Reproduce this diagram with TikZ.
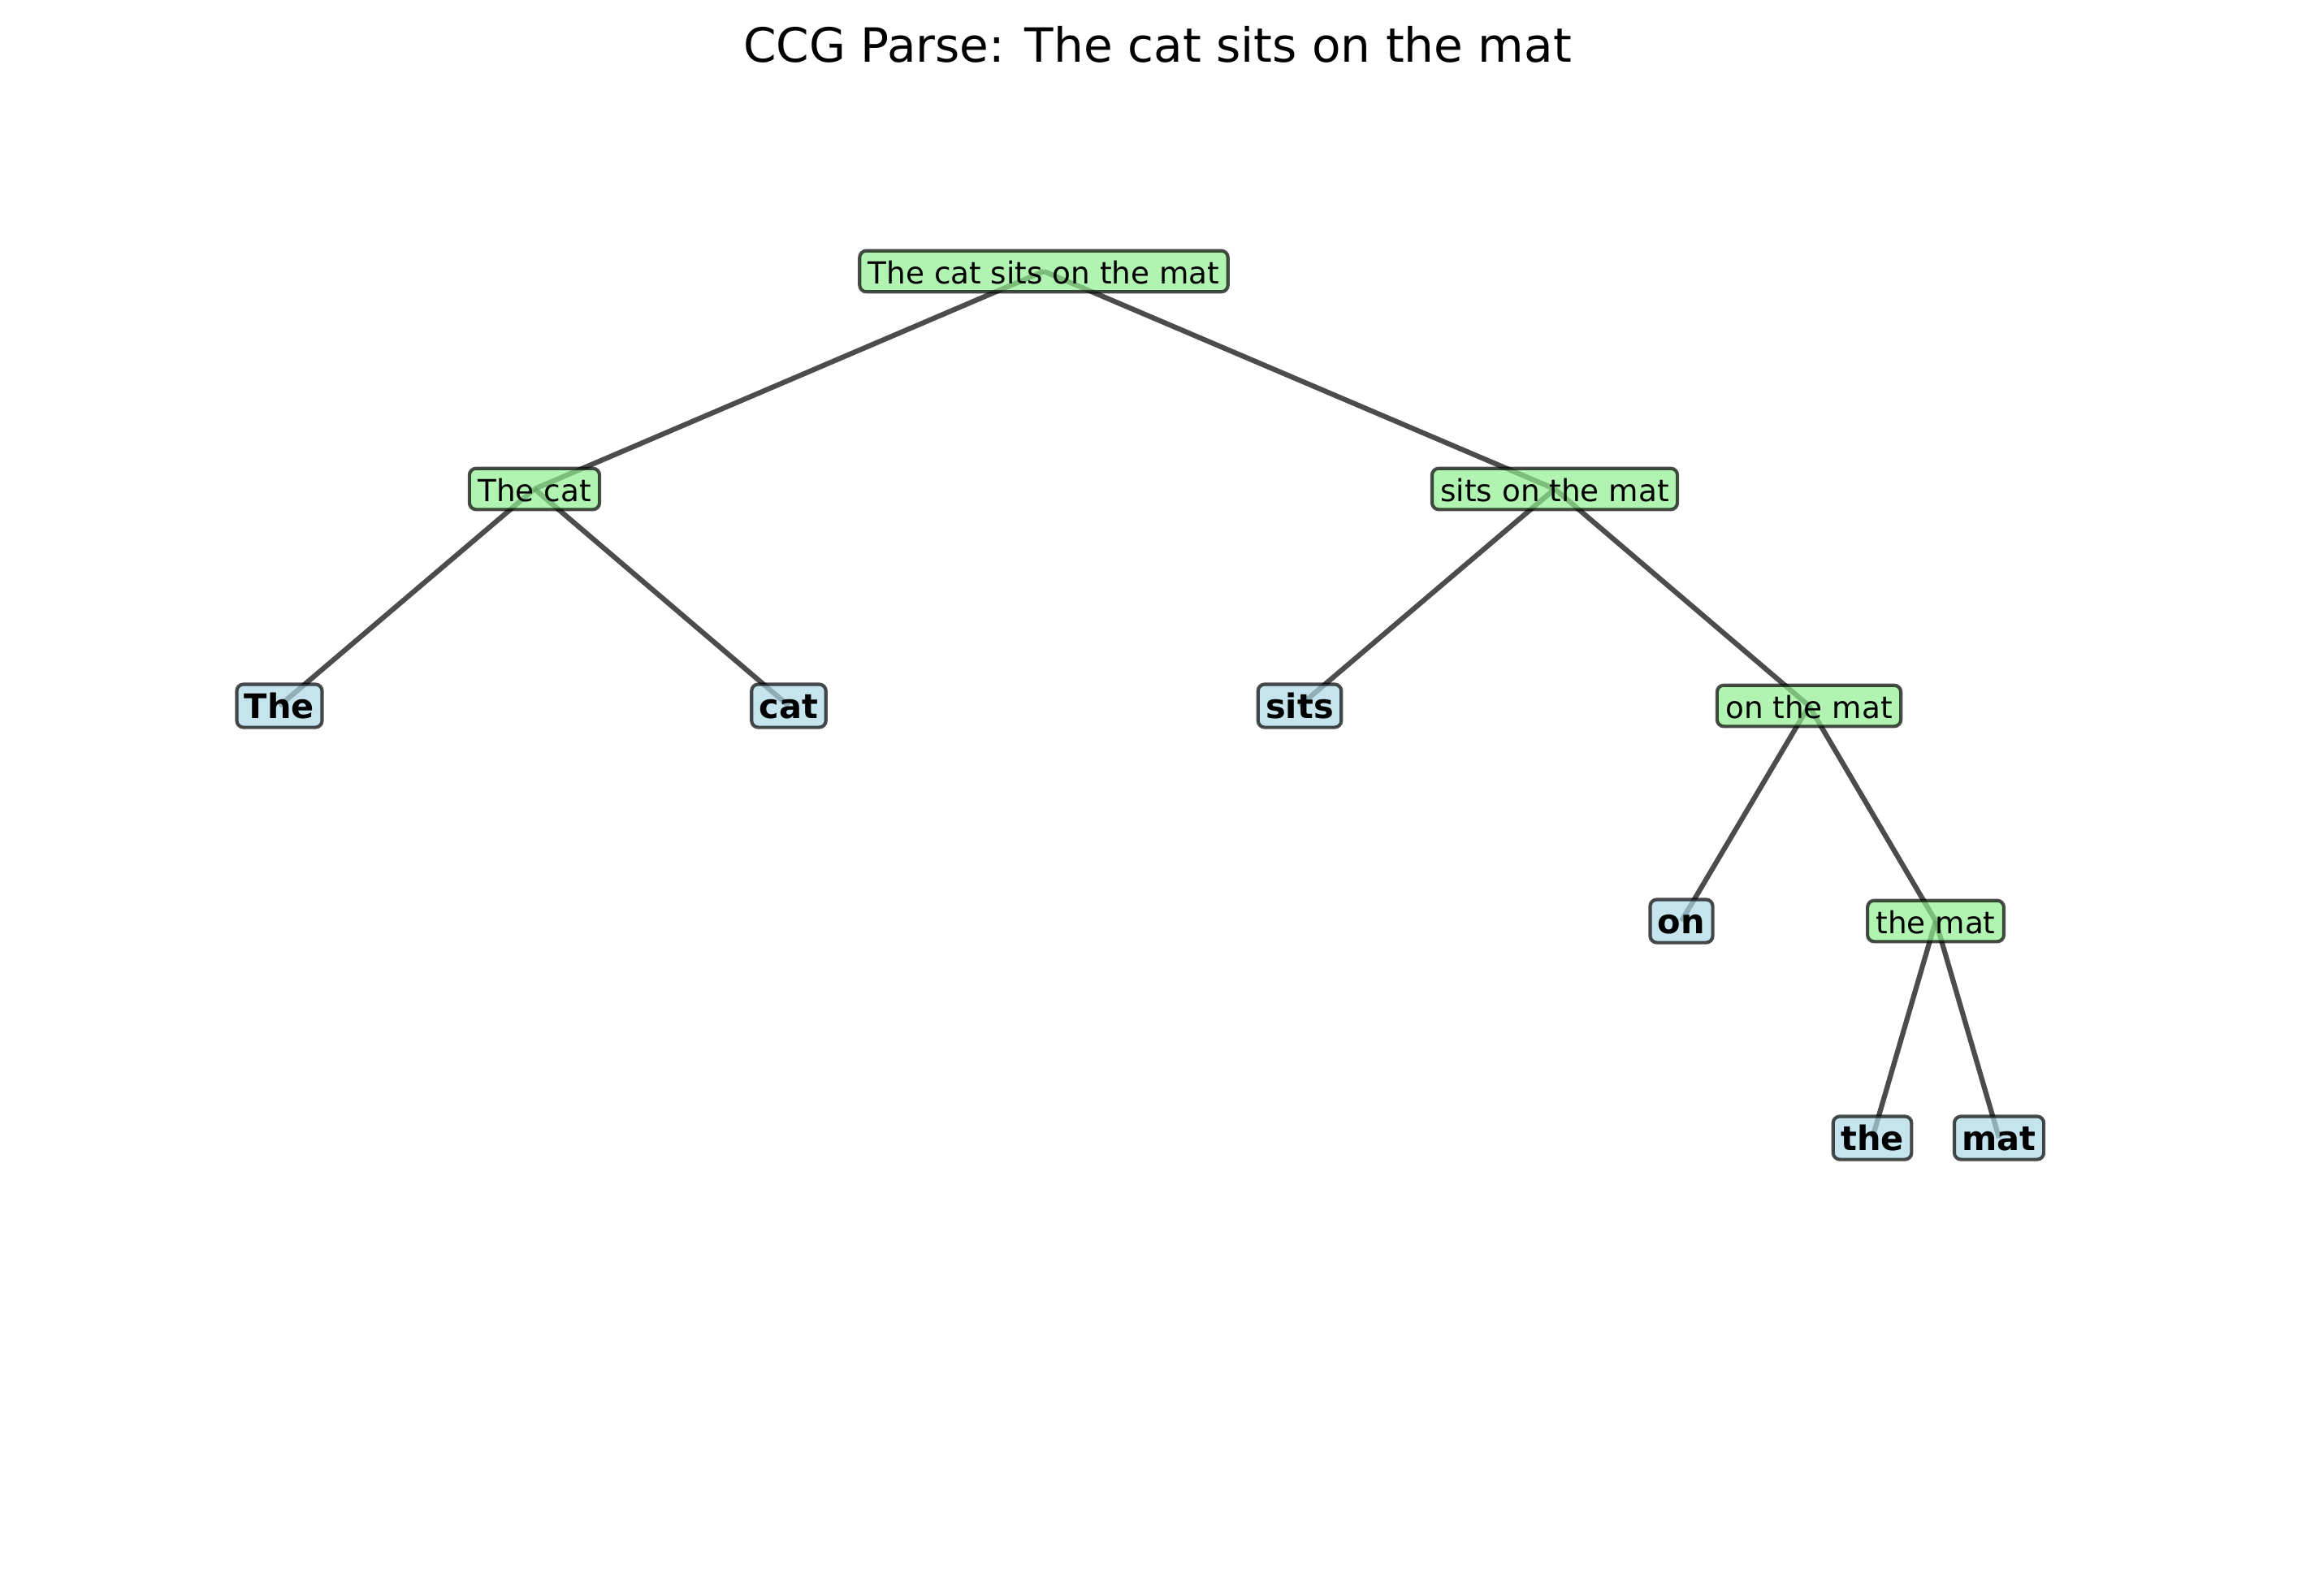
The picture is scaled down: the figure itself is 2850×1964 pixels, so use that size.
\documentclass[tikz,border=0pt]{standalone}
\usepackage{fontspec}
\setmainfont{DejaVu Sans}
\usetikzlibrary{backgrounds}
\definecolor{lgreen}{HTML}{90EE90}
\definecolor{lblue}{HTML}{ADD8E6}
\tikzset{
  px/.style={x=0.24bp,y=-0.24bp},
  phrase/.style={draw=black,draw opacity=0.7,fill=lgreen,fill opacity=0.7,text opacity=1,
    rounded corners=2pt,line width=1pt,font=\fontsize{9}{10}\selectfont,
    inner xsep=2.5pt,inner ysep=2.2pt,text height=0.76em,text depth=0.02em},
  word/.style={draw=black,draw opacity=0.7,fill=lblue,fill opacity=0.7,text opacity=1,
    rounded corners=2pt,line width=1pt,font=\fontsize{10}{11}\selectfont\bfseries,
    inner xsep=2.3pt,inner ysep=2.5pt,text height=0.76em,text depth=0.02em},
  edge/.style={draw=black,draw opacity=0.7,line width=1.5pt}
}
\begin{document}
\begin{tikzpicture}[px]
\useasboundingbox (0,0) rectangle (2850,1964);
\node[font=\fontsize{14}{16}\selectfont] (title) at (1425,55) {CCG Parse: The cat sits on the mat};
\node[phrase] (root) at (1285,334) {The cat sits on the mat};
\node[phrase] (np1) at (658,602) {The cat};
\node[phrase] (vp) at (1914,602) {sits on the mat};
\node[word] (w1) at (344,869) {The};
\node[word] (w2) at (971,869) {cat};
\node[word] (w3) at (1600,869) {sits};
\node[phrase] (pp) at (2227,869) {on the mat};
\node[word] (w4) at (2070,1134) {on};
\node[phrase] (np2) at (2383,1134) {the mat};
\node[word] (w5) at (2305,1401) {the};
\node[word] (w6) at (2461,1401) {mat};
\begin{scope}[on background layer]
\draw[edge] (root.center) -- (np1.center);
\draw[edge] (root.center) -- (vp.center);
\draw[edge] (np1.center) -- (w1.center);
\draw[edge] (np1.center) -- (w2.center);
\draw[edge] (vp.center) -- (w3.center);
\draw[edge] (vp.center) -- (pp.center);
\draw[edge] (pp.center) -- (w4.center);
\draw[edge] (pp.center) -- (np2.center);
\draw[edge] (np2.center) -- (w5.center);
\draw[edge] (np2.center) -- (w6.center);
\end{scope}
\end{tikzpicture}
\end{document}
